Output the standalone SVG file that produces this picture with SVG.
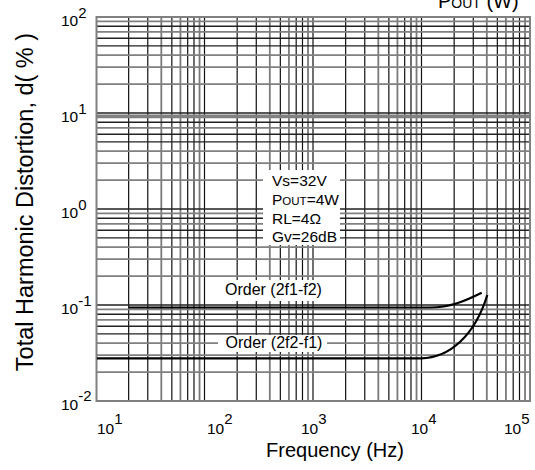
<svg xmlns="http://www.w3.org/2000/svg" width="535" height="470" viewBox="0 0 535 470">
<style>
text{font-family:"Liberation Sans",Arial,Helvetica,sans-serif;fill:#000}
.gk{stroke:#111;stroke-width:1.2;fill:none}
.gg{stroke:#7a7a7a;stroke-width:1.8;fill:none}
.hk{stroke:#222;stroke-width:1.4;fill:none}
.hg{stroke:#808080;stroke-width:1.8;fill:none}
.bd{stroke:#808080;stroke-width:2;fill:none}
.curve{stroke:#000;stroke-width:2.2;fill:none}
.tk{font-size:15.5px}
.sp{font-size:15px}
.lg{font-size:15.5px}
.sc{font-size:11.5px}
.od{font-size:16px}
</style>
<rect width="535" height="470" fill="#fff"/>
<g id="grid">
<g id="vgrid">
<path class="gk" d="M128.66 17V401M147.77 17V401M171.84 17V401M187.69 17V401M193.99 17V401M204.5 17V401"/>
<path class="gg" d="M161.32 17V401M180.43 17V401M199.53 17V401"/>
<path class="gk" d="M237.16 17V401M256.27 17V401M280.34 17V401M296.19 17V401M302.49 17V401M313 17V401"/>
<path class="gg" d="M269.82 17V401M288.93 17V401M308.03 17V401"/>
<path class="gk" d="M345.66 17V401M364.77 17V401M388.84 17V401M404.69 17V401M410.99 17V401M421.5 17V401"/>
<path class="gg" d="M378.32 17V401M397.43 17V401M416.53 17V401"/>
<path class="gk" d="M454.16 17V401M473.27 17V401M497.34 17V401M513.19 17V401M519.49 17V401"/>
<path class="gg" d="M486.82 17V401M505.93 17V401M525.03 17V401"/>
</g>
<g id="hgrid">
<path class="hg" d="M96 372.1H530M96 355.2H530M96 343.2H530M96 319.87H530M96 309.39H530"/>
<path class="hk" d="M96 333.9H530M96 326.3H530M96 314.3H530M96 305H530"/>
<path class="hg" d="M96 276.1H530M96 259.2H530M96 247.2H530M96 223.87H530M96 213.39H530"/>
<path class="hk" d="M96 237.9H530M96 230.3H530M96 218.3H530M96 209H530"/>
<path class="hg" d="M96 180.1H530M96 163.2H530M96 151.2H530M96 127.87H530M96 117.39H530M96 115.5H530"/>
<path class="hk" d="M96 141.9H530M96 134.3H530M96 122.3H530M96 113H530"/>
<path class="hg" d="M96 84.1H530M96 67.2H530M96 55.2H530M96 31.87H530M96 21.39H530"/>
<path class="hk" d="M96 45.9H530M96 38.3H530M96 26.3H530"/>
</g>
<rect class="bd" x="96.5" y="17" width="433.5" height="384"/>
</g>
<g id="legend">
<rect x="263" y="170" width="77" height="75" fill="#fff"/>
<text class="lg" x="272" y="186">Vs=32V</text>
<text class="lg" x="272" y="204.5">P<tspan class="sc">OUT</tspan>=4W</text>
<text class="lg" x="272" y="223.5">RL=4Ω</text>
<text class="lg" x="272" y="242">Gv=26dB</text>
</g>
<g id="connectors">
<path id="curve-2f1-f2" class="curve" d="M129 307.5H430C450 307.5 465 301 481.7 292.7"/>
<path id="curve-2f2-f1" class="curve" d="M97 358.3H421C450 358 475 335 487.3 295"/>
</g>
<g id="label-2f1-f2">
<rect x="218" y="280" width="109" height="21" fill="#fff"/>
<text class="od" x="225" y="295">Order (2f1-f2)</text>
</g>
<g id="label-2f2-f1">
<rect x="218" y="335" width="109" height="17" fill="#fff"/>
<text class="od" x="225.5" y="347.5">Order (2f2-f1)</text>
</g>
<g id="y-ticks">
<text class="tk" x="61" y="25.5">10<tspan class="sp" dy="-8">2</tspan></text>
<text class="tk" x="61" y="121.5">10<tspan class="sp" dy="-8">1</tspan></text>
<text class="tk" x="61" y="217.5">10<tspan class="sp" dy="-8">0</tspan></text>
<text class="tk" x="61" y="313.5">10<tspan class="sp" dy="-8">-1</tspan></text>
<text class="tk" x="61" y="409.5">10<tspan class="sp" dy="-9">-2</tspan></text>
</g>
<g id="x-ticks">
<text class="tk" x="97" y="434">10<tspan class="sp" dy="-10">1</tspan></text>
<text class="tk" x="207" y="434">10<tspan class="sp" dy="-10">2</tspan></text>
<text class="tk" x="301" y="434">10<tspan class="sp" dy="-10">3</tspan></text>
<text class="tk" x="411" y="434">10<tspan class="sp" dy="-10">4</tspan></text>
<text class="tk" x="504" y="434">10<tspan class="sp" dy="-10">5</tspan></text>
</g>
<g id="titles">
<text x="335" y="457" font-size="20" text-anchor="middle">Frequency (Hz)</text>
<text transform="translate(33 202) rotate(-90)" font-size="23.5" text-anchor="middle">Total Harmonic Distortion, d( % )</text>
<text x="438" y="7.5" font-size="20">P<tspan font-size="14">OUT</tspan> (W)</text>
</g>
</svg>
